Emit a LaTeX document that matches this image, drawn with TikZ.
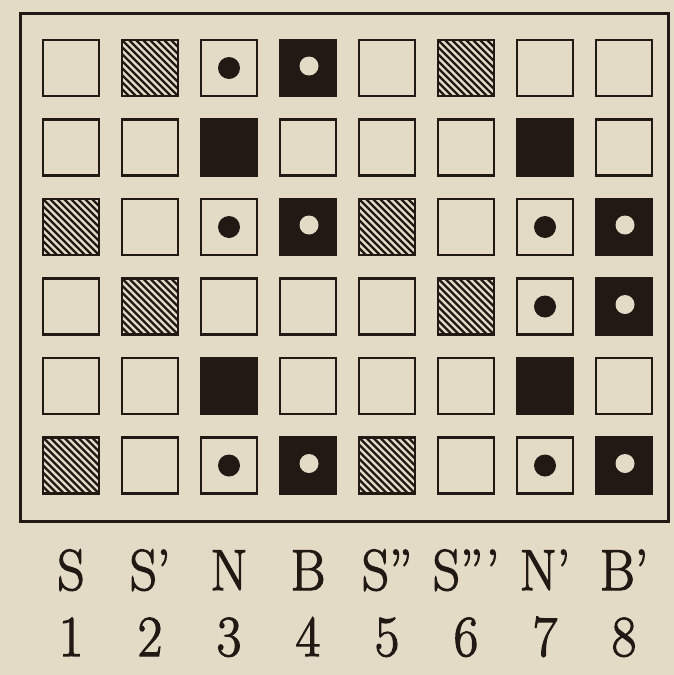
\documentclass[tikz,border=0pt]{standalone}
\usepackage{fontspec}
\newfontfamily\labfont[FakeBold=2,FakeStretch=0.92]{Latin Modern Roman}
\begin{document}
\begin{tikzpicture}[x=1pt,y=-1pt]
\definecolor{paper}{RGB}{228,219,199}
\definecolor{ink}{RGB}{32,25,20}
\tikzset{
  cellbox/.style={draw=ink,line width=2.8},
  hatchline/.style={draw=ink,line width=2.2},
  lbl/.style={text=ink,font=\labfont\fontsize{58}{58}\selectfont,inner sep=0pt,anchor=base}
}
\fill[paper] (0,0) rectangle (674,675);
\useasboundingbox (0,0) rectangle (674,675);
\draw[ink,line width=3] (20,13) rectangle (668,521);
\foreach \row [count=\j] in {{0,1,2,3,0,1,0,0},{0,0,4,0,0,0,4,0},{1,0,2,3,1,0,2,3},{0,1,0,0,0,1,2,3},{0,0,4,0,0,0,4,0},{1,0,2,3,1,0,2,3}}{
  \foreach \t [count=\i] in \row {
    \pgfmathsetmacro\xl{43+79*(\i-1)}
    \pgfmathsetmacro\yt{40+79.5*(\j-1)}
    \ifcase\t
      \draw[cellbox] (\xl,\yt) rectangle ++(56,56);
    \or
      \begin{scope}
        \clip (\xl,\yt) rectangle ++(56,56);
        \foreach \k in {-70,-63,...,63} \draw[hatchline] (\xl+\k,\yt) -- ++(56,56);
      \end{scope}
      \draw[cellbox] (\xl,\yt) rectangle ++(56,56);
    \or
      \draw[cellbox] (\xl,\yt) rectangle ++(56,56);
      \fill[ink] (\xl+28,\yt+28) circle (11);
    \or
      \fill[ink] (\xl-1.4,\yt-1.4) rectangle ++(58.8,58.8);
      \fill[paper] (\xl+29,\yt+26) circle (9.5);
    \or
      \fill[ink] (\xl-1.4,\yt-1.4) rectangle ++(58.8,58.8);
    \fi
  }
}
\foreach \s [count=\i] in {S,S’,N,B,S”,S”’,N’,B’}{
  \pgfmathsetmacro\xc{71+79*(\i-1)}
  \node[lbl] (lab\i) at (\xc,590) {\s};
}
\foreach \d in {1,...,8}{
  \pgfmathsetmacro\xc{71+79*(\d-1)}
  \node[lbl] (num\d) at (\xc,656) {\d};
}
\end{tikzpicture}
\end{document}
